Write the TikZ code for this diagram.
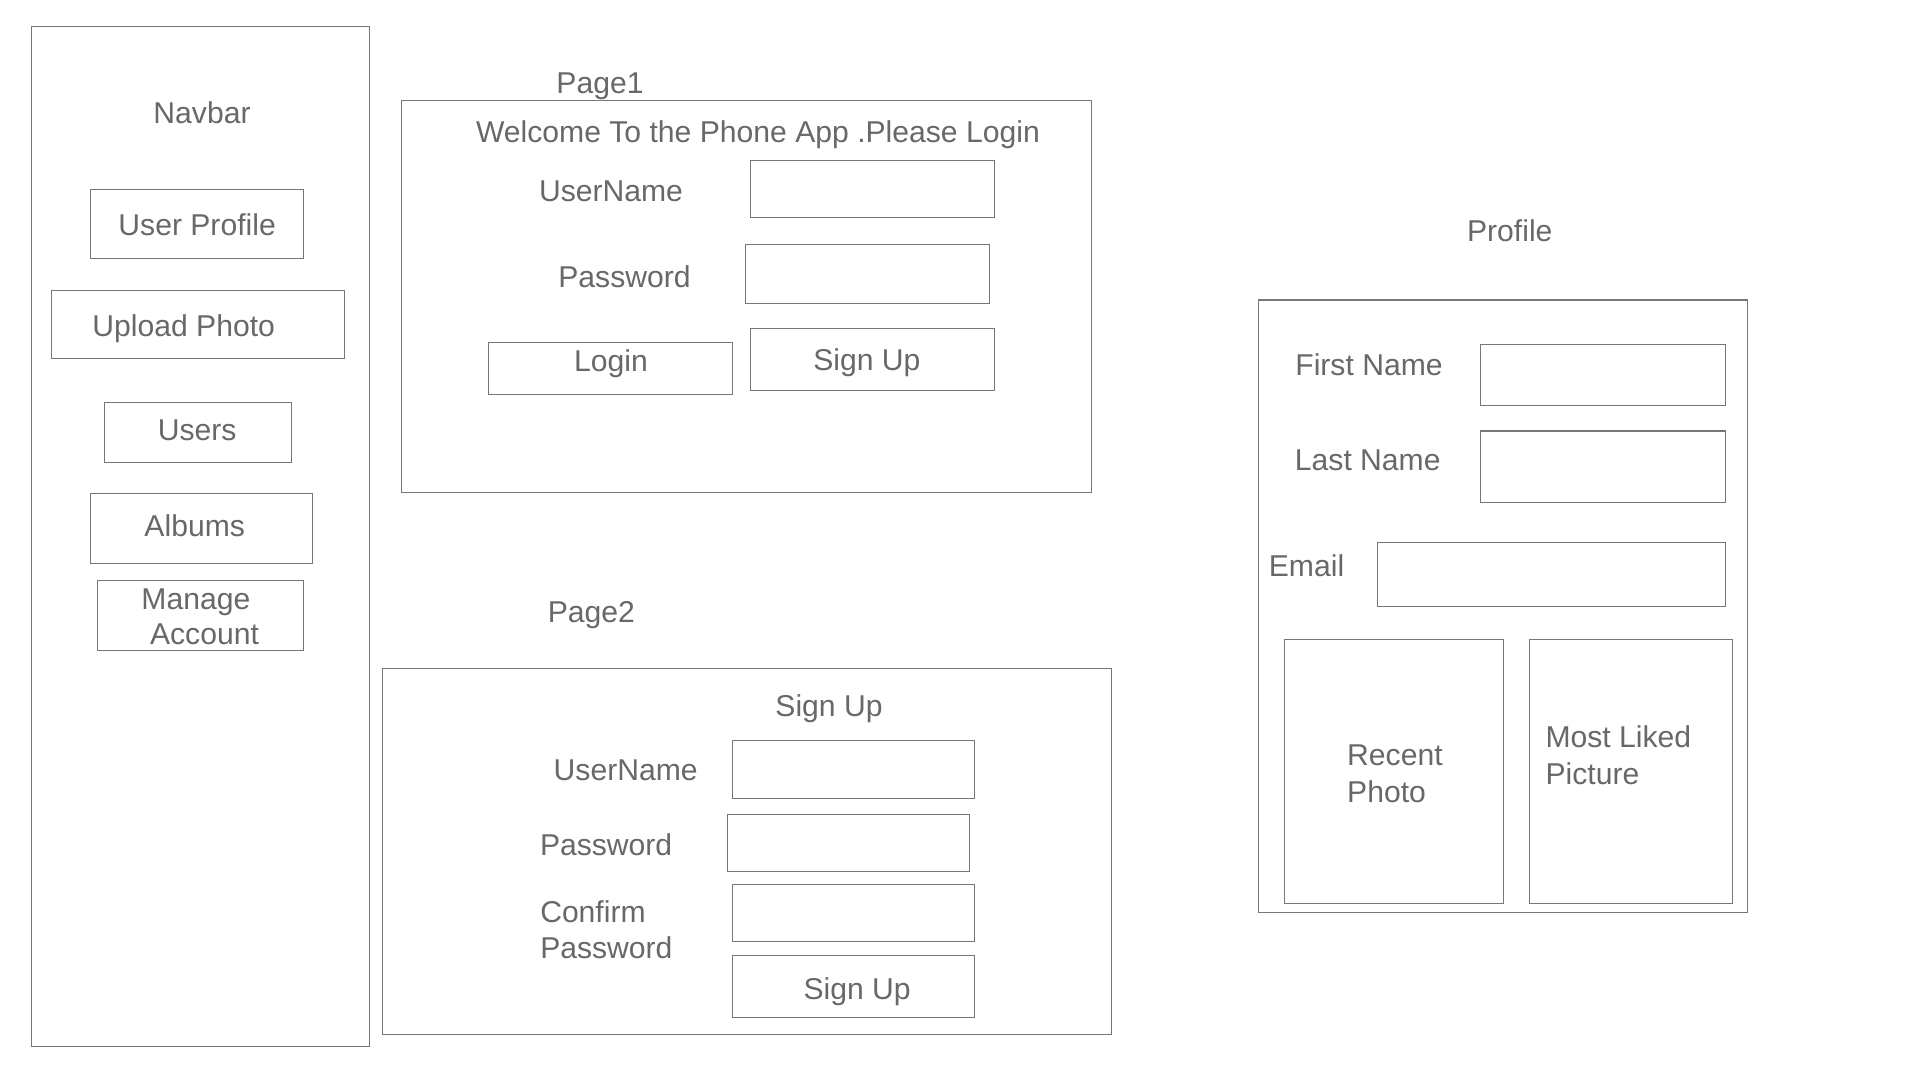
\documentclass[tikz,border=0pt]{standalone}
\usepackage{fontspec}
\setmainfont{Liberation Sans}
\definecolor{inkgray}{HTML}{686868}
\definecolor{linegray}{HTML}{777777}
\begin{document}
\begin{tikzpicture}[x=1pt,y=-1pt,
  box/.style={draw=linegray, line width=0.85pt, inner sep=0pt, outer sep=0pt, rectangle},
  txt/.style={text=inkgray, font=\fontsize{24.6}{29}\selectfont, inner sep=0pt, anchor=base},
  ltxt/.style={txt, anchor=base west}]
\useasboundingbox (0,0) rectangle (1568,882);
\fill[white] (0,0) rectangle (1568,882);

% ---------- navigation column ----------
\node[box, minimum width=276pt, minimum height=833pt] (nav) at (164,438.5) {};
\node[txt] (navtitle) at (165,100.5) {Navbar};
\node[box, minimum width=174pt, minimum height=56pt] (uprofile) at (161,183) {};
\node[txt] (uprofiletxt) at (161,192.5) {User Profile};
\node[box, minimum width=239pt, minimum height=56pt] (upload) at (161.5,265) {};
\node[txt] (uploadtxt) at (150,274.5) {Upload Photo};
\node[box, minimum width=153pt, minimum height=49pt] (users) at (161.5,353.5) {};
\node[txt] (userstxt) at (161,359.5) {Users};
\node[box, minimum width=181pt, minimum height=57pt] (albums) at (164.5,431.5) {};
\node[txt] (albumstxt) at (159,438.5) {Albums};
\node[box, minimum width=168pt, minimum height=57pt] (manage) at (164,502.5) {};
\node[txt] (managetxt) at (160,497.5) {Manage};
\node[txt] (accounttxt) at (167,526.5) {Account};

% ---------- login page ----------
\node[txt] (p1title) at (490,76.5) {Page1};
\node[box, minimum width=563pt, minimum height=320pt] (page1) at (609.5,242) {};
\node[txt] (welcome) at (619,116.5) {Welcome To the Phone App .Please Login};
\node[txt] (p1user) at (499,164.5) {UserName};
\node[box, minimum width=199pt, minimum height=47pt] (p1userbox) at (712.5,154.5) {};
\node[txt] (p1pass) at (510,234.5) {Password};
\node[box, minimum width=199pt, minimum height=48pt] (p1passbox) at (708.5,224) {};
\node[box, minimum width=199pt, minimum height=42pt] (loginbtn) at (498.5,301) {};
\node[txt] (logintxt) at (499,303.5) {Login};
\node[box, minimum width=199pt, minimum height=51pt] (p1signbtn) at (712.5,293.5) {};
\node[txt] (p1signtxt) at (708,302.5) {Sign Up};

% ---------- sign-up page ----------
\node[txt] (p2title) at (483,508.5) {Page2};
\node[box, minimum width=596pt, minimum height=299pt] (page2) at (610,695.5) {};
\node[txt] (p2head) at (677,585.5) {Sign Up};
\node[txt] (p2user) at (511,637.5) {UserName};
\node[box, minimum width=198pt, minimum height=47pt] (p2userbox) at (697,628.5) {};
\node[txt] (p2pass) at (495,698.5) {Password};
\node[box, minimum width=198pt, minimum height=47pt] (p2passbox) at (693,688.5) {};
\node[ltxt] (p2confirm) at (441,753.5) {Confirm};
\node[ltxt] (p2confirmb) at (441,782.5) {Password};
\node[box, minimum width=198pt, minimum height=47pt] (p2confbox) at (697,745.5) {};
\node[box, minimum width=198pt, minimum height=51pt] (p2signbtn) at (697,805.5) {};
\node[txt] (p2signtxt) at (700,816.5) {Sign Up};

% ---------- profile page ----------
\node[txt] (proftitle) at (1233,197.5) {Profile};
\node[box, minimum width=399pt, minimum height=500pt] (profile) at (1227.5,495) {};
\node[txt] (fname) at (1118,306.5) {First Name};
\node[box, minimum width=200pt, minimum height=50pt] (fnamebox) at (1309,306) {};
\node[txt] (lname) at (1117,384.5) {Last Name};
\node[box, minimum width=200pt, minimum height=58pt] (lnamebox) at (1309,381) {};
\node[txt] (email) at (1067,470.5) {Email};
\node[box, minimum width=284pt, minimum height=52pt] (emailbox) at (1267,469) {};
\node[box, minimum width=179pt, minimum height=216pt] (recent) at (1138.5,630) {};
\node[ltxt] (recenta) at (1100,625.5) {Recent};
\node[ltxt] (recentb) at (1100,655.5) {Photo};
\node[box, minimum width=166pt, minimum height=216pt] (liked) at (1332,630) {};
\node[ltxt] (likeda) at (1262,610.5) {Most Liked};
\node[ltxt] (likedb) at (1262,640.5) {Picture};
\end{tikzpicture}
\end{document}
